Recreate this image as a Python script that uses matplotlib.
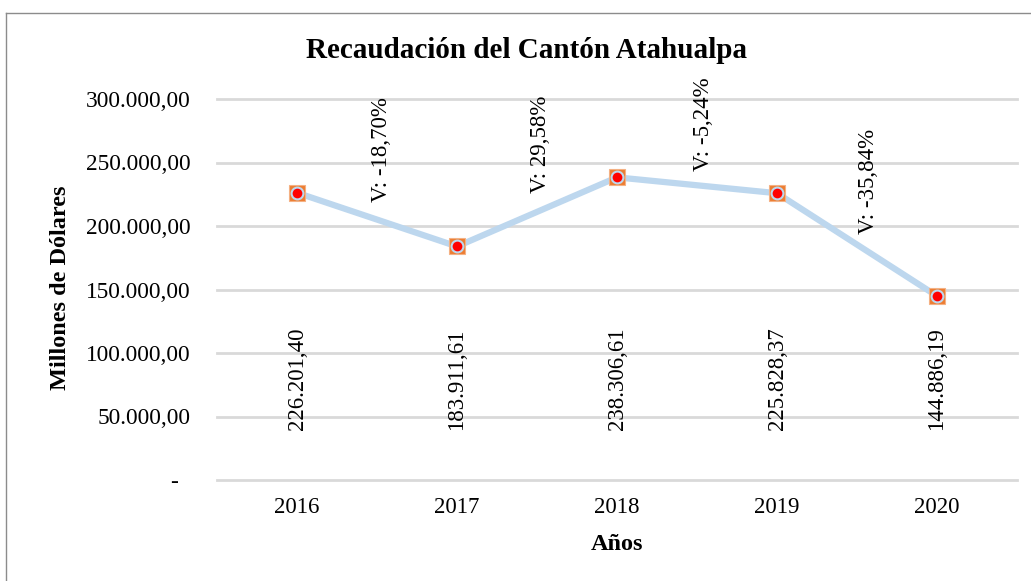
import matplotlib.pyplot as plt
from matplotlib.lines import Line2D

years = ["2016", "2017", "2018", "2019", "2020"]
values = [226201.40, 183911.61, 238306.61, 225828.37, 144886.19]
value_labels = ["226.201,40", "183.911,61", "238.306,61", "225.828,37", "144.886,19"]
var_labels = ["V: -18,70%", "V: 29,58%", "V: -5,24%", "V: -35,84%"]
var_x = [0.53, 1.52, 2.54, 3.57]
var_y = [260000, 264000, 280000, 235000]
yticks = [0, 50000, 100000, 150000, 200000, 250000, 300000]
ytick_labels = ["-  ", "50.000,00", "100.000,00", "150.000,00", "200.000,00", "250.000,00", "300.000,00"]

plt.rcParams['font.family'] = ['Liberation Serif', 'DejaVu Serif']

fig = plt.figure(figsize=(10.31, 5.81), dpi=100)
ax = fig.add_axes([217 / 1031, 1 - 480 / 581, 800 / 1031, 381 / 581])

x = list(range(len(years)))
ax.plot(x, values, color='#BDD7EE', linewidth=4.5, zorder=2, solid_capstyle='round')
ax.plot(x, values, linestyle='none', marker='s', markersize=11.5,
        markerfacecolor='#ED7D31', markeredgecolor='#F4B183', markeredgewidth=0.8, zorder=3)
ax.plot(x, values, linestyle='none', marker='o', markersize=8.5,
        markerfacecolor='#FF0000', markeredgecolor='#BDD7EE', markeredgewidth=1.5, zorder=4)

for i, lab in enumerate(value_labels):
    ax.text(i, 39000, lab, rotation=90, ha='center', va='bottom', fontsize=16.5, color='#000000')

for xv, yv, lab in zip(var_x, var_y, var_labels):
    ax.text(xv, yv, lab, rotation=90, ha='center', va='center', fontsize=16.5, color='#000000')

ax.set_xlim(-0.5, 4.5)
ax.set_ylim(0, 300000)
ax.set_xticks(x)
ax.set_xticklabels(years, fontsize=16.5)
ax.set_yticks(yticks)
ax.set_yticklabels(ytick_labels, fontsize=16.8)
ax.tick_params(length=0, pad=19)
ax.tick_params(axis='x', pad=12)
ax.grid(axis='y', color='#D9D9D9', linewidth=2)
for gl in ax.get_ygridlines():
    gl.set_clip_on(False)
ax.set_axisbelow(True)
for s in ax.spines.values():
    s.set_visible(False)

fig.text(526 / 1031, 1 - 50 / 581, "Recaudación del Cantón Atahualpa", ha='center', va='center',
         fontsize=21, fontweight='bold')
fig.text(60 / 1031, 1 - 288 / 581, "Millones de Dólares", rotation=90, ha='center', va='center',
         fontsize=17.5, fontweight='bold')
fig.text(617 / 1031, 1 - 545 / 581, "Años", ha='center', va='center', fontsize=17.5, fontweight='bold')

fig.add_artist(Line2D([5.5 / 1031, 5.5 / 1031], [0, 1 - 12.5 / 581], color='#8C8C8C', linewidth=1,
                      transform=fig.transFigure))
fig.add_artist(Line2D([5.5 / 1031, 1], [1 - 12.5 / 581, 1 - 12.5 / 581], color='#8C8C8C', linewidth=1,
                      transform=fig.transFigure))

fig.savefig("out.png", dpi=100)
